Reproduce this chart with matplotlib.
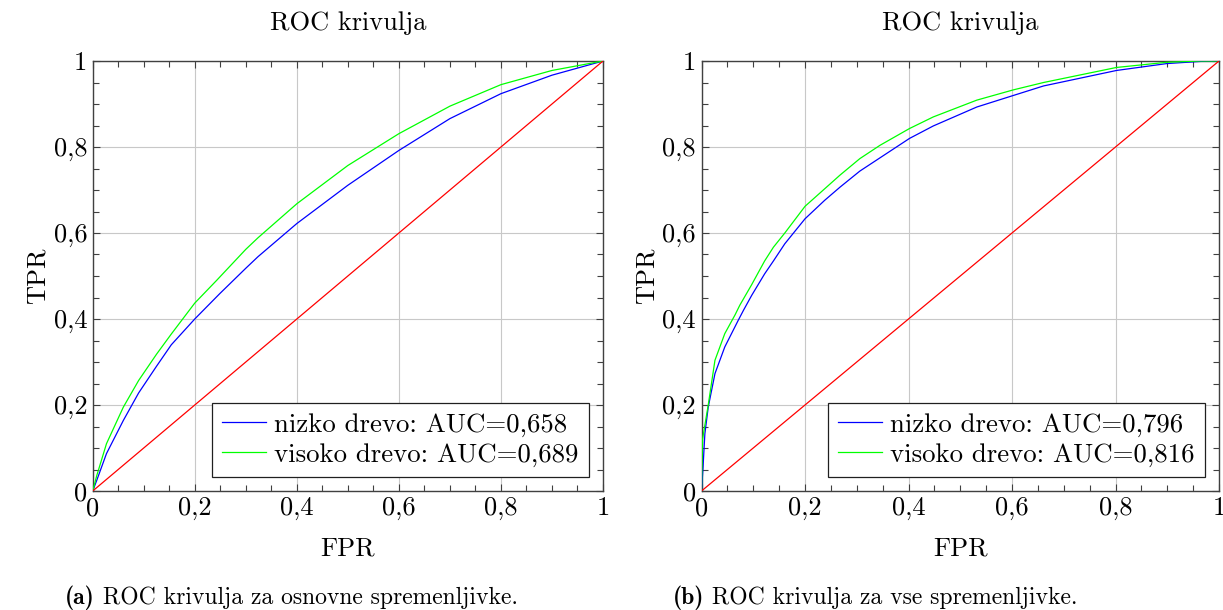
import numpy as np
import matplotlib
matplotlib.use("Agg")
import matplotlib.pyplot as plt
from matplotlib.ticker import MultipleLocator

plt.rcParams['font.family'] = ['cmr10', 'DejaVu Serif']
plt.rcParams['mathtext.fontset'] = 'cm'
plt.rcParams['axes.unicode_minus'] = False
plt.rcParams['axes.formatter.use_mathtext'] = True

# ---- data ----
# (a) basic variables
fpr_a_low = [0, 0.008, 0.027, 0.06, 0.09, 0.125, 0.154, 0.2, 0.249, 0.3, 0.324, 0.4, 0.5, 0.6, 0.7, 0.8, 0.9, 1.0]
tpr_a_low = [0, 0.025, 0.087, 0.164, 0.228, 0.290, 0.340, 0.400, 0.459, 0.518, 0.545, 0.622, 0.711, 0.792, 0.866, 0.924, 0.967, 1.0]
fpr_a_high = [0, 0.008, 0.027, 0.06, 0.09, 0.125, 0.154, 0.2, 0.243, 0.3, 0.324, 0.4, 0.5, 0.6, 0.7, 0.8, 0.9, 1.0]
tpr_a_high = [0, 0.036, 0.110, 0.195, 0.257, 0.318, 0.365, 0.437, 0.490, 0.562, 0.589, 0.668, 0.757, 0.831, 0.895, 0.945, 0.978, 1.0]

# (b) all variables
fpr_b_low = [0, 0.003, 0.0065, 0.013, 0.026, 0.045, 0.071, 0.081, 0.097, 0.122, 0.139, 0.161, 0.2, 0.238,
             0.268, 0.306, 0.402, 0.448, 0.532, 0.603, 0.661, 0.802, 0.899, 0.976, 1.0]
tpr_b_low = [0, 0.056, 0.133, 0.195, 0.273, 0.335, 0.397, 0.420, 0.455, 0.505, 0.535, 0.575, 0.633, 0.676,
             0.707, 0.744, 0.820, 0.849, 0.893, 0.920, 0.942, 0.978, 0.994, 1.0, 1.0]
fpr_b_high = [0, 0.002, 0.013, 0.026, 0.045, 0.065, 0.074, 0.097, 0.122, 0.139, 0.161, 0.2, 0.268, 0.306,
              0.345, 0.402, 0.448, 0.532, 0.603, 0.661, 0.802, 0.899, 0.963, 1.0]
tpr_b_high = [0, 0.12, 0.20, 0.304, 0.366, 0.410, 0.432, 0.480, 0.535, 0.567, 0.600, 0.662, 0.735, 0.773,
              0.804, 0.843, 0.870, 0.909, 0.933, 0.950, 0.985, 0.997, 1.0, 1.0]

labels_a = ['nizko drevo: AUC=0,658', 'visoko drevo: AUC=0,689']
labels_b = ['nizko drevo: AUC=0,796', 'visoko drevo: AUC=0,816']
tick_vals = [0, 0.2, 0.4, 0.6, 0.8, 1.0]
tick_labels = ['0', '0,2', '0,4', '0,6', '0,8', '1']
title = 'ROC krivulja'
cap_tags = ['(a)', '(b)']
cap_texts = [' ROC krivulja za osnovne spremenljivke.', ' ROC krivulja za vse spremenljivke.']

W, H = 1223, 610
fig = plt.figure(figsize=(W / 100, H / 100), dpi=100)

def px_axes(x0, x1, y0, y1):
    return fig.add_axes([x0 / W, 1 - y1 / H, (x1 - x0) / W, (y1 - y0) / H])

axes = [px_axes(92.7, 603, 61, 491), px_axes(701.5, 1219, 61, 491)]
data = [(fpr_a_low, tpr_a_low, fpr_a_high, tpr_a_high, labels_a),
        (fpr_b_low, tpr_b_low, fpr_b_high, tpr_b_high, labels_b)]

FS = 19
LFS = 19.3
for ax, (xl, yl, xh, yh, labs) in zip(axes, data):
    ax.plot(xl, yl, color='#0000ff', lw=0.9, label=labs[0], zorder=3)
    ax.plot(xh, yh, color='#00ff00', lw=0.9, label=labs[1], zorder=3)
    ax.plot([0, 1], [0, 1], color='#ff0000', lw=0.9, zorder=3)
    ax.set_xlim(0, 1)
    ax.set_ylim(0, 1)
    ax.set_xticks(tick_vals)
    ax.set_xticklabels(tick_labels)
    ax.set_yticks(tick_vals)
    ax.set_yticklabels(tick_labels)
    ax.xaxis.set_minor_locator(MultipleLocator(0.05))
    ax.yaxis.set_minor_locator(MultipleLocator(0.05))
    ax.tick_params(which='both', direction='in', top=True, right=True,
                   color='#404040', width=0.8, labelsize=FS)
    ax.tick_params(which='major', length=5, pad=4)
    ax.tick_params(which='minor', length=4)
    ax.grid(True, which='major', color='#c8c8c8', lw=0.8, zorder=0)
    ax.set_axisbelow(True)
    for s in ax.spines.values():
        s.set_color('#404040')
        s.set_linewidth(1.0)
    ax.set_title(title, fontsize=FS, pad=22)
    ax.set_xlabel('FPR', fontsize=FS, labelpad=12)
    ax.set_ylabel('TPR', fontsize=FS, labelpad=3)
    leg = ax.legend(loc='lower right', fontsize=LFS, frameon=True, fancybox=False,
                    edgecolor='#202020', framealpha=1, borderaxespad=0.52,
                    handlelength=1.65, handletextpad=0.3, borderpad=0.38,
                    labelspacing=0.22)
    leg.get_frame().set_linewidth(0.9)

# captions with bold tag
fig.canvas.draw()
renderer = fig.canvas.get_renderer()
for x0, tag, txt in [(65, cap_tags[0], cap_texts[0]), (673, cap_tags[1], cap_texts[1])]:
    t1 = fig.text(x0 / W, 1 - 598 / H, tag, fontsize=17, va='center', ha='left', family=['cmb10'])
    bb = t1.get_window_extent(renderer)
    fig.text(bb.x1 / W, 1 - 598 / H, txt, fontsize=17, va='center', ha='left')

fig.savefig('out.png', dpi=100)
